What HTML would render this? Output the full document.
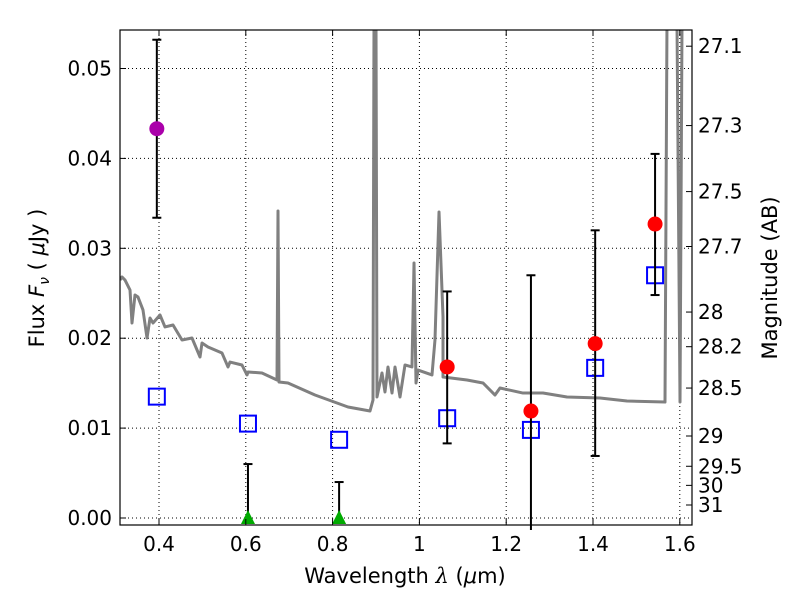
<!DOCTYPE html>
<html><head><meta charset="utf-8"><style>
body{margin:0;background:#fff}
svg text{font-family:"DejaVu Sans","Liberation Sans",sans-serif;fill:#000}
</style></head><body>
<svg id="chart" width="800" height="600" viewBox="0 0 800 600" xmlns="http://www.w3.org/2000/svg">
<defs><clipPath id="clip"><rect x="120" y="30" width="572" height="495"/></clipPath></defs>
<rect x="0" y="0" width="800" height="600" fill="#fff"/>
<g id="grid"></g>
<g id="spec" clip-path="url(#clip)"></g>
<g id="marks"></g>
<rect x="120" y="30" width="572" height="495" fill="none" stroke="#000" stroke-width="1.2"/>
<g id="axes"></g>
<text x="405" y="583" font-size="21" text-anchor="middle">Wavelength  <tspan font-style="italic" font-family="DejaVu Serif, serif">λ</tspan> (<tspan font-style="italic">μ</tspan>m)</text>
<text transform="translate(44,278) rotate(-90)" font-size="21" text-anchor="middle">Flux  <tspan font-style="italic">F</tspan><tspan font-style="italic" font-size="14" dy="5">ν</tspan><tspan dy="-5">  ( </tspan><tspan font-style="italic">μ</tspan>Jy )</text>
<text transform="translate(777,278) rotate(-90)" font-size="21" text-anchor="middle">Magnitude (AB)</text>
</svg>
<script>
const xTicks=[0.4,0.6,0.8,1.0,1.2,1.4,1.6];
const xTickLabels=["0.4","0.6","0.8","1","1.2","1.4","1.6"];
const yTicks=[0,0.01,0.02,0.03,0.04,0.05];
const yTickLabels=["0.00","0.01","0.02","0.03","0.04","0.05"];
const magTicks=[27.1,27.3,27.5,27.7,28,28.2,28.5,29,29.5,30,31];
const magLabels=["27.1","27.3","27.5","27.7","28","28.2","28.5","29","29.5","30","31"];
const specPx=[[120,280],[122,277],[125,280],[130,290],[132,323],[135,295],[138,297],[143,310],[147,338],[150,318],[153,323],[160,315],[165,327],[173,325],[182,340],[192,338],[200,357],[202,343],[208,347],[222,353],[228,367],[230,362],[242,365],[247,375],[248,372],[262,373],[277,380],[278,211],[279,382],[288,383],[315,395],[348,407],[370,411],[373,400],[374,20],[376,20],[377,397],[382,373],[385,392],[388,367],[392,393],[395,367],[400,397],[405,365],[412,367],[414,263],[416,383],[418,370],[432,375],[435,340],[439,212],[443,317],[443,377],[467,380],[483,383],[495,395],[500,388],[523,393],[543,393],[567,397],[600,398],[627,401],[665,402],[667,20],[672,20],[677,20],[680,402],[682,20],[692,20]];
const specWave=specPx.map(p=>+((p[0]-159)/434+0.4).toFixed(4));
const specFlux=specPx.map(p=>+((518-p[1])/8990).toFixed(5));
const detWave=[1.064,1.257,1.405,1.543];
const detFlux=[0.0168,0.0119,0.0194,0.0327];
const detErrLo=[0.0083,-0.002,0.0069,0.0248];
const detErrHi=[0.0252,0.027,0.032,0.0405];
const purpleWave=[0.395];
const purpleFlux=[0.0433];
const purpleLo=[0.0334];
const purpleHi=[0.0532];
const modelWave=[0.395,0.605,0.815,1.064,1.257,1.405,1.543];
const modelFlux=[0.0135,0.0105,0.0087,0.0111,0.0098,0.0167,0.027];
const limWave=[0.605,0.815];
const limFlux=[0,0];
const limHi=[0.006,0.004];

const X=l=>159+(l-0.4)*434;
const Y=f=>518-f*8990;
const magY=m=>Y(Math.pow(10,(23.9-m)/2.5));
const NS="http://www.w3.org/2000/svg";
function mk(tag,parent,attrs){const e=document.createElementNS(NS,tag);for(const k in attrs)e.setAttribute(k,attrs[k]);parent.appendChild(e);return e;}
const grid=document.getElementById('grid'),axes=document.getElementById('axes'),spec=document.getElementById('spec'),marks=document.getElementById('marks');
xTicks.forEach((t,i)=>{
 const g=mk('line',grid,{x1:X(t),x2:X(t),y1:30,y2:525,stroke:'#000','stroke-dasharray':'1,3','stroke-width':1});
 
 
 mk('line',axes,{x1:X(t),x2:X(t),y1:525,y2:519,stroke:'#000'});
 mk('line',axes,{x1:X(t),x2:X(t),y1:30,y2:36,stroke:'#000'});
 const tx=mk('text',axes,{x:X(t),y:551,'font-size':20,'text-anchor':'middle'});tx.textContent=xTickLabels[i];
 
 
});
yTicks.forEach((t,i)=>{
 const g=mk('line',grid,{x1:120,x2:692,y1:Y(t),y2:Y(t),stroke:'#000','stroke-dasharray':'1,3','stroke-width':1});
 
 
 mk('line',axes,{x1:120,x2:126,y1:Y(t),y2:Y(t),stroke:'#000'});
 const tx=mk('text',axes,{x:112,y:Y(t)+7,'font-size':20,'text-anchor':'end'});tx.textContent=yTickLabels[i];
 
 
});
magTicks.forEach((m,i)=>{
 const y=magY(m);
 mk('line',axes,{x1:686,x2:692,y1:y,y2:y,stroke:'#000'});
 const tx=mk('text',axes,{x:698,y:y+7,'font-size':20});tx.textContent=magLabels[i];
 
 
});
const sp=mk('polyline',spec,{points:specWave.map((w,i)=>X(w)+','+Y(specFlux[i])).join(' '),fill:'none',stroke:'#808080','stroke-width':3,'stroke-linejoin':'round'});


function errbar(x,lo,hi){const top=Y(hi),bot=Math.min(Y(lo),530);
 mk('line',marks,{x1:x,x2:x,y1:top,y2:bot,stroke:'#000','stroke-width':2});
 mk('line',marks,{x1:x-4.5,x2:x+4.5,y1:top,y2:top,stroke:'#000','stroke-width':2});
 if(Y(lo)<525)mk('line',marks,{x1:x-4.5,x2:x+4.5,y1:Y(lo),y2:Y(lo),stroke:'#000','stroke-width':2});}
modelWave.forEach((w,i)=>{const r=mk('rect',marks,{x:X(w)-8,y:Y(modelFlux[i])-8,width:16,height:16,fill:'none',stroke:'#0000ff','stroke-width':2});
 
 });
detWave.forEach((w,i)=>{errbar(X(w),detErrLo[i],detErrHi[i]);
 const c=mk('circle',marks,{cx:X(w),cy:Y(detFlux[i]),r:7.5,fill:'#ff0000'});
 
 });
purpleWave.forEach((w,i)=>{errbar(X(w),purpleLo[i],purpleHi[i]);
 const c=mk('circle',marks,{cx:X(w),cy:Y(purpleFlux[i]),r:7.5,fill:'#aa00aa'});
 
 });
limWave.forEach((w,i)=>{const x=X(w),y=Y(limFlux[i]);
 mk('line',marks,{x1:x,x2:x,y1:Y(limHi[i]),y2:y,stroke:'#000','stroke-width':2});
 mk('line',marks,{x1:x-4.5,x2:x+4.5,y1:Y(limHi[i]),y2:Y(limHi[i]),stroke:'#000','stroke-width':2});
 const t=mk('polygon',marks,{points:`${x},${y-8} ${x-7},${y+6} ${x+7},${y+6}`,fill:'#00aa00'});
 
 });
</script>
</body></html>
